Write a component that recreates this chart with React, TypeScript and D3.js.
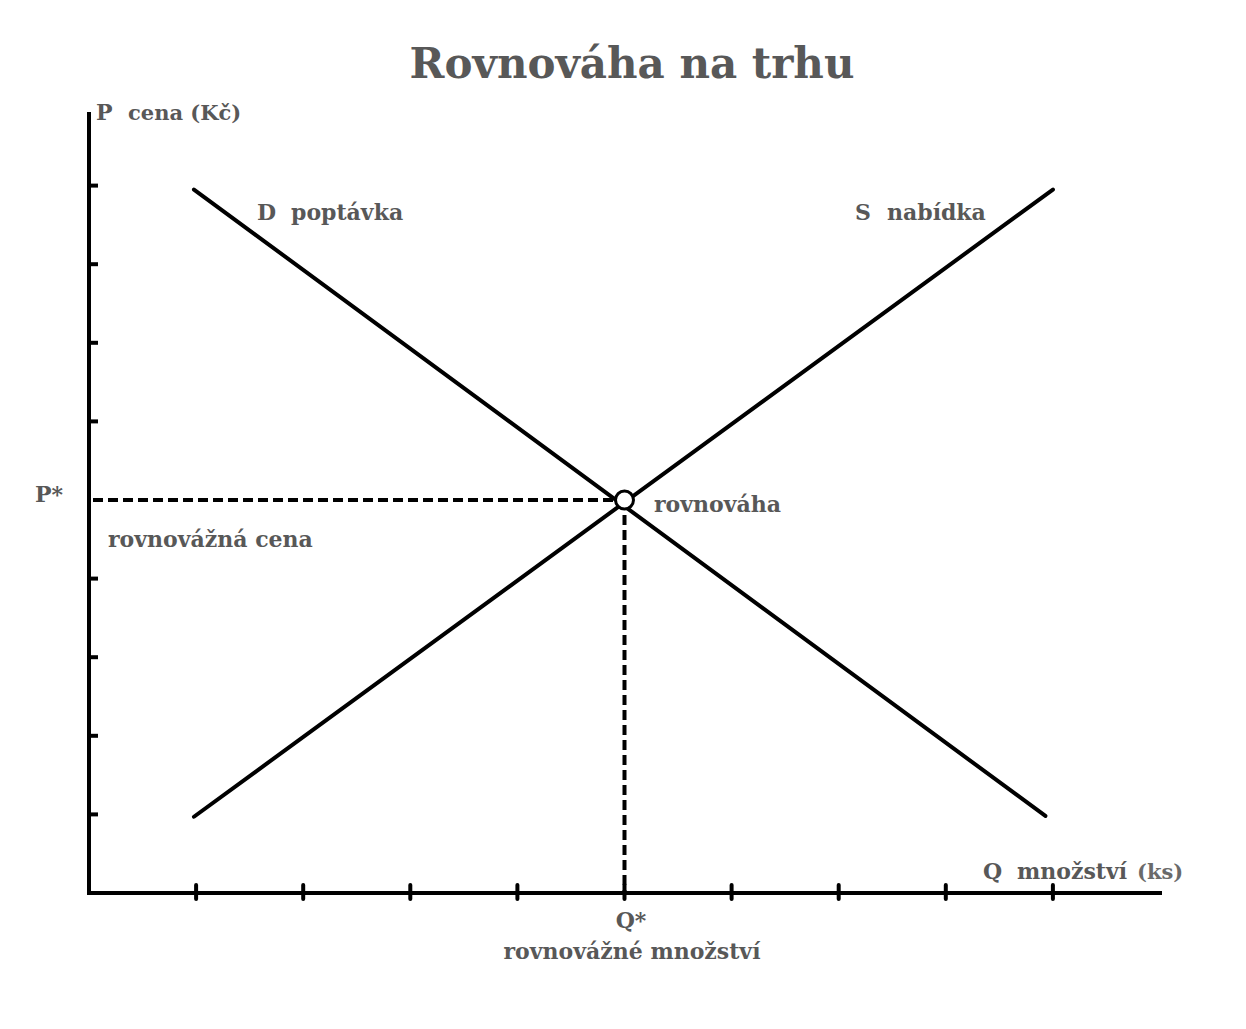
import { useEffect, useRef } from "react";
import * as d3 from "d3";

// quantity ticks (x) and price ticks (y), unitless positions 1..9
const xTicks = [1, 2, 3, 4, 5, 6, 7, 8, 9];
const yTicks = [1, 2, 3, 4, 6, 7, 8, 9];

// demand and supply end points [q, p]
const demand: [number, number][] = [
  [0.98, 8.95],
  [8.93, 0.98],
];
const supply: [number, number][] = [
  [0.98, 0.97],
  [9.0, 8.95],
];
const equilibrium: [number, number] = [5, 5];

const W = 1246;
const H = 1029;
const FONT = "'DejaVu Serif', 'Liberation Serif', serif";
const TEXT = "#585858";

export default function App() {
  const svgRef = useRef<SVGSVGElement>(null);

  useEffect(() => {
    if (!svgRef.current) return;
    const svg = d3.select(svgRef.current);
    svg.selectAll("*").remove();

    const x = d3.scaleLinear().domain([0, 10]).range([89, 1160]);
    const y = d3.scaleLinear().domain([0, 10]).range([893, 107]);

    // title
    svg
      .append("text")
      .attr("x", 632)
      .attr("y", 78)
      .attr("text-anchor", "middle")
      .attr("fill", TEXT)
      .style("font-family", FONT)
      .style("font-weight", "bold")
      .style("font-size", "42px")
      .text("Rovnováha na trhu");

    // axes
    svg
      .append("line")
      .attr("x1", x(0))
      .attr("x2", x(0))
      .attr("y1", 112)
      .attr("y2", y(0) + 2)
      .attr("stroke", "#000")
      .attr("stroke-width", 4);
    svg
      .append("line")
      .attr("x1", x(0) - 2)
      .attr("x2", 1162)
      .attr("y1", y(0))
      .attr("y2", y(0))
      .attr("stroke", "#000")
      .attr("stroke-width", 4);

    svg
      .append("g")
      .selectAll("line")
      .data(xTicks)
      .enter()
      .append("line")
      .attr("x1", (d) => x(d))
      .attr("x2", (d) => x(d))
      .attr("y1", y(0) - 8)
      .attr("y2", y(0) + 6)
      .attr("stroke", "#000")
      .attr("stroke-width", 4)
      .attr("stroke-linecap", "round");

    svg
      .append("g")
      .selectAll("line")
      .data(yTicks)
      .enter()
      .append("line")
      .attr("x1", x(0))
      .attr("x2", x(0) + 9)
      .attr("y1", (d) => y(d))
      .attr("y2", (d) => y(d))
      .attr("stroke", "#000")
      .attr("stroke-width", 4);

    // dashed guides
    const [eq, ep] = equilibrium;
    svg
      .append("line")
      .attr("x1", x(0) + 4)
      .attr("x2", x(eq))
      .attr("y1", y(ep))
      .attr("y2", y(ep))
      .attr("stroke", "#000")
      .attr("stroke-width", 4)
      .attr("stroke-dasharray", "10,5");
    svg
      .append("line")
      .attr("x1", x(eq))
      .attr("x2", x(eq))
      .attr("y1", y(ep))
      .attr("y2", y(0) - 2)
      .attr("stroke", "#000")
      .attr("stroke-width", 4)
      .attr("stroke-dasharray", "10,5");

    // curves
    const line = d3
      .line<[number, number]>()
      .x((d) => x(d[0]))
      .y((d) => y(d[1]));
    [demand, supply].forEach((pts) => {
      svg
        .append("path")
        .attr("d", line(pts) || "")
        .attr("fill", "none")
        .attr("stroke", "#000")
        .attr("stroke-width", 4)
        .attr("stroke-linecap", "round");
    });

    svg
      .append("circle")
      .attr("cx", x(eq))
      .attr("cy", y(ep))
      .attr("r", 9)
      .attr("fill", "#fff")
      .attr("stroke", "#000")
      .attr("stroke-width", 3);

    // labels
    const label = (tx: number, ty: number, t: string, anchor = "start", size = 22, color = TEXT) =>
      svg
        .append("text")
        .attr("x", tx)
        .attr("y", ty)
        .attr("text-anchor", anchor)
        .attr("fill", color)
        .style("font-family", FONT)
        .style("font-weight", "bold")
        .style("font-size", `${size}px`)
        .text(t);

    label(96, 120, "P");
    label(128, 120, "cena (Kč)", "start", 21);
    label(35, 502, "P*");
    label(108, 547, "rovnovážná cena");
    label(654, 512, "rovnováha");
    label(257, 220, "D");
    label(291, 220, "poptávka");
    label(855, 220, "S");
    label(887, 220, "nabídka");
    label(983, 879, "Q");
    label(1017, 879, "množství");
    label(1137, 879, "(ks)", "start", 21, "#6a6a6a");
    label(631, 928, "Q*", "middle");
    label(632, 959, "rovnovážné množství", "middle");
  }, []);

  return <svg ref={svgRef} width={W} height={H} style={{ display: "block", margin: "-8px", background: "#fff" }} />;
}
